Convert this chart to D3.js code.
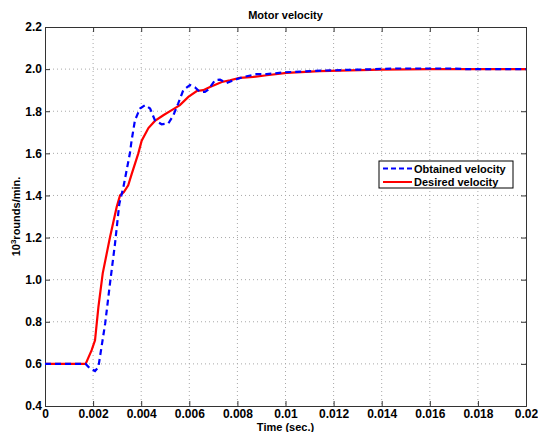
<!DOCTYPE html>
<html>
<head>
<meta charset="utf-8">
<script src="https://cdn.jsdelivr.net/npm/d3@7"></script>
<style>
  body { margin: 0; background: #fff; }
  svg text { font-family: "Liberation Sans", Arial, sans-serif; font-weight: bold; fill: #000; }
</style>
</head>
<body>
<div id="chart"></div>
<script>
// time (s) and velocity (10^3 rounds/min)
var desiredT = [0, 0.00169, 0.00194, 0.00208, 0.00222, 0.0024, 0.0027, 0.00298, 0.00312, 0.00328, 0.00346, 0.0036,
  0.00388, 0.00402, 0.0043, 0.00457, 0.00492, 0.00527, 0.00561, 0.00596, 0.00631, 0.00658, 0.00686, 0.00735,
  0.00769, 0.0081, 0.00866, 0.00922, 0.01005, 0.01143, 0.01393, 0.016, 0.02];
var desiredV = [0.6, 0.6, 0.665, 0.712, 0.87, 1.03, 1.2, 1.345, 1.4, 1.416, 1.448, 1.5,
  1.6, 1.66, 1.72, 1.754, 1.781, 1.805, 1.829, 1.868, 1.896, 1.9, 1.915, 1.939,
  1.947, 1.958, 1.963, 1.971, 1.982, 1.99, 1.998, 2.0, 2.0];

var obtainedT = [0, 0.00169, 0.00185, 0.00208, 0.00222, 0.0025, 0.0027, 0.00291, 0.00309, 0.00326, 0.00353, 0.0036,
  0.00374, 0.00395, 0.00416, 0.00437, 0.00457, 0.00485, 0.00513, 0.00534, 0.00554, 0.00575, 0.00603, 0.00624,
  0.00644, 0.00665, 0.00679, 0.00707, 0.00728, 0.00755, 0.00783, 0.00825, 0.0088, 0.00922, 0.01, 0.0115,
  0.0135, 0.0146, 0.0168, 0.0175, 0.02];
var obtainedV = [0.6, 0.6, 0.58, 0.566, 0.585, 0.79, 0.98, 1.17, 1.36, 1.44, 1.6, 1.66,
  1.757, 1.813, 1.829, 1.813, 1.757, 1.738, 1.742, 1.781, 1.837, 1.9, 1.924, 1.913,
  1.892, 1.892, 1.903, 1.947, 1.95, 1.934, 1.947, 1.963, 1.976, 1.976, 1.985, 1.993,
  1.999, 2.003, 2.003, 2.0, 2.0];

var xTicks = [0, 0.002, 0.004, 0.006, 0.008, 0.01, 0.012, 0.014, 0.016, 0.018, 0.02];
var xTickLabels = ["0", "0.002", "0.004", "0.006", "0.008", "0.01", "0.012", "0.014", "0.016", "0.018", "0.02"];
var yTicks = [0.4, 0.6, 0.8, 1.0, 1.2, 1.4, 1.6, 1.8, 2.0, 2.2];
var yTickLabels = ["0.4", "0.6", "0.8", "1.0", "1.2", "1.4", "1.6", "1.8", "2.0", "2.2"];

var seriesNames = ["Obtained velocity", "Desired velocity"];

var width = 538, height = 432;
var margin = {top: 27, right: 12, bottom: 26, left: 45};
var w = width - margin.left - margin.right;
var h = height - margin.top - margin.bottom;

var svg = d3.select('#chart').append('svg')
  .attr('width', width)
  .attr('height', height);

var g = svg.append('g').attr('transform', 'translate(' + margin.left + ',' + margin.top + ')');

var x = d3.scaleLinear().domain([0, 0.02]).range([0, w]);
var y = d3.scaleLinear().domain([0.4, 2.2]).range([h, 0]);

// grid
g.append('g').selectAll('line').data(xTicks.slice(1, -1)).enter().append('line')
  .attr('x1', function(d) { return x(d); }).attr('x2', function(d) { return x(d); })
  .attr('y1', 0).attr('y2', h)
  .attr('stroke', '#a8a8a8').attr('stroke-width', 1).attr('stroke-dasharray', '1,3');
g.append('g').selectAll('line').data(yTicks.slice(1, -1)).enter().append('line')
  .attr('y1', function(d) { return y(d); }).attr('y2', function(d) { return y(d); })
  .attr('x1', 0).attr('x2', w)
  .attr('stroke', '#a8a8a8').attr('stroke-width', 1).attr('stroke-dasharray', '1,3');

// axes, ticks pointing inward
var xAxis = g.append('g').attr('transform', 'translate(0,' + h + ')')
  .call(d3.axisBottom(x).tickValues(xTicks).tickSize(-5).tickPadding(3)
    .tickFormat(function(d, i) { return xTickLabels[i]; }));
var yAxis = g.append('g')
  .call(d3.axisLeft(y).tickValues(yTicks).tickSize(-5).tickPadding(3)
    .tickFormat(function(d, i) { return yTickLabels[i]; }));
var xTop = g.append('g')
  .call(d3.axisTop(x).tickValues(xTicks).tickSize(-5).tickFormat(''));
var yRight = g.append('g').attr('transform', 'translate(' + w + ',0)')
  .call(d3.axisRight(y).tickValues(yTicks).tickSize(-5).tickFormat(''));

[xAxis, yAxis, xTop, yRight].forEach(function(a) {
  a.select('.domain').attr('stroke', '#333');
  a.selectAll('.tick line').attr('stroke', '#333');
  a.selectAll('text').attr('font-size', 12).attr('font-family', null);
});

// curves
var line = d3.line()
  .x(function(d) { return x(d[0]); })
  .y(function(d) { return y(d[1]); });

g.append('path')
  .datum(desiredT.map(function(t, i) { return [t, desiredV[i]]; }))
  .attr('d', line)
  .attr('fill', 'none').attr('stroke', '#ff0000').attr('stroke-width', 2.2);

g.append('path')
  .datum(obtainedT.map(function(t, i) { return [t, obtainedV[i]]; }))
  .attr('d', line)
  .attr('fill', 'none').attr('stroke', '#0000ff').attr('stroke-width', 2.2)
  .attr('stroke-dasharray', '6,4');

// legend
var lg = svg.append('g').attr('transform', 'translate(379,161)');
lg.append('rect').attr('width', 134).attr('height', 27)
  .attr('fill', '#fff').attr('stroke', '#000').attr('stroke-width', 1);
var styles = [{c: '#0000ff', dash: '5,3'}, {c: '#ff0000', dash: null}];
seriesNames.forEach(function(name, i) {
  var yy = 7.5 + i * 13.5;
  lg.append('line').attr('x1', 4).attr('x2', 33).attr('y1', yy).attr('y2', yy)
    .attr('stroke', styles[i].c).attr('stroke-width', 2)
    .attr('stroke-dasharray', styles[i].dash);
  lg.append('text').attr('x', 35).attr('y', yy + 4).attr('font-size', 11).text(name);
});

// title and labels
svg.append('text').attr('x', margin.left + w / 2).attr('y', 19)
  .attr('text-anchor', 'middle').attr('font-size', 11).text('Motor velocity');
svg.append('text').attr('x', margin.left + w / 2).attr('y', 431)
  .attr('text-anchor', 'middle').attr('font-size', 11).text('Time (sec.)');

var yl = svg.append('text')
  .attr('transform', 'translate(20,' + (margin.top + h / 2) + ') rotate(-90)')
  .attr('text-anchor', 'middle').attr('font-size', 11);
yl.append('tspan').text('10');
yl.append('tspan').attr('dy', -4).attr('font-size', 8).text('3');
yl.append('tspan').attr('dy', 4).text('rounds/min.');
</script>
</body>
</html>
